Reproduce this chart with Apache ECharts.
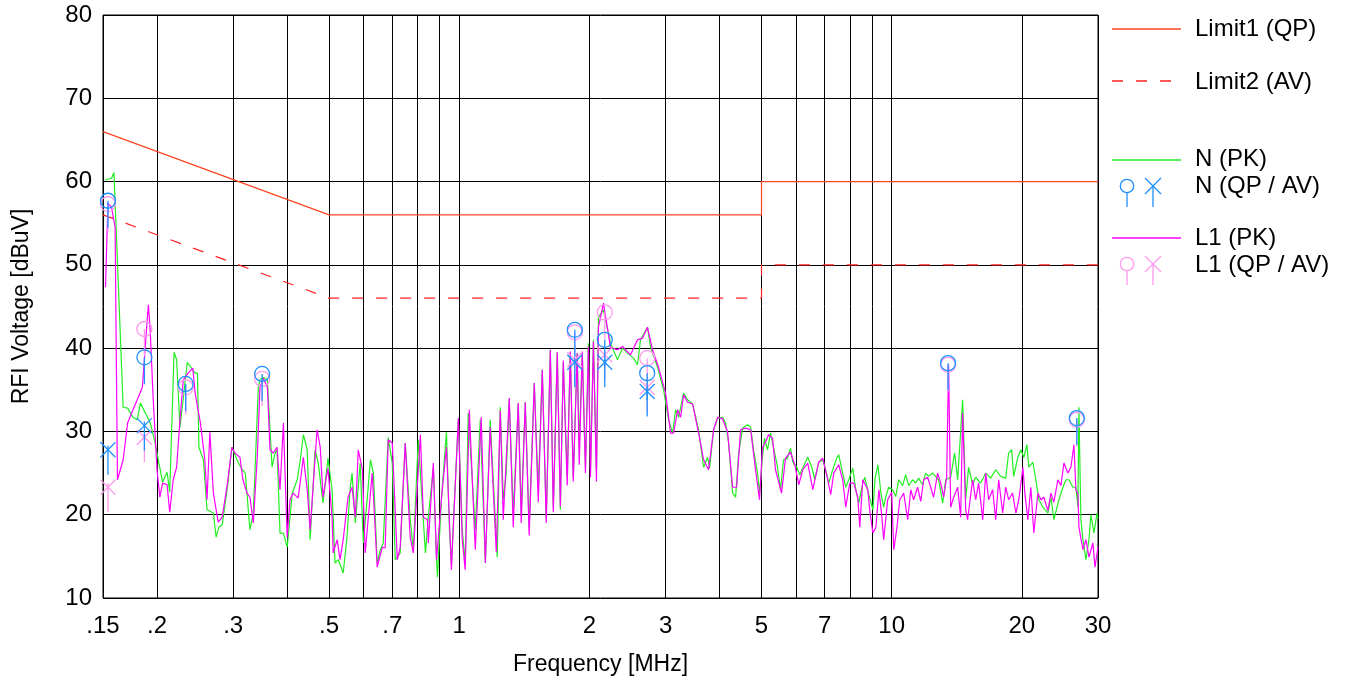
<!DOCTYPE html>
<html>
<head>
<meta charset="utf-8">
<script src="https://cdn.jsdelivr.net/npm/echarts@6/dist/echarts.min.js"></script>
<style>
  html, body { margin: 0; padding: 0; background: #fff; }
  #emi { width: 1348px; height: 681px; }
</style>
</head>
<body>
<div id="emi"></div>
<script>
// frequency grid (MHz) and labels
var gridFreqs = [0.15, 0.2, 0.3, 0.4, 0.5, 0.6, 0.7, 0.8, 0.9, 1, 2, 3, 4, 5, 6, 7, 8, 9, 10, 20, 30];
var labelFreqs = [0.15, 0.2, 0.3, 0.5, 0.7, 1, 2, 3, 5, 7, 10, 20, 30];
var labelTexts = ['.15', '.2', '.3', '.5', '.7', '1', '2', '3', '5', '7', '10', '20', '30'];

// limits [MHz, dBuV]
var limit1 = [[0.15, 66], [0.5, 56], [5, 56], [5, 60], [30, 60]];
var limit2 = [[0.15, 56], [0.5, 46], [5, 46], [5, 50], [30, 50]];

// N peak scan [MHz, dBuV]
var nPk = [
  [0.152, 60.2], [0.157, 60.4], [0.159, 61.1], [0.167, 32.9], [0.171, 32.8], [0.176, 31.7],
  [0.180, 31.4], [0.183, 33.4], [0.188, 32.2], [0.193, 31.0], [0.198, 28.6], [0.201, 26.8],
  [0.206, 23.9], [0.211, 25.1], [0.214, 22.7], [0.219, 39.5], [0.222, 38.6], [0.226, 30.5],
  [0.235, 38.3], [0.245, 37.0], [0.248, 37.0], [0.250, 28.1], [0.256, 26.6], [0.261, 20.6],
  [0.270, 20.2], [0.274, 17.3], [0.278, 18.5], [0.283, 18.8], [0.291, 23.3], [0.298, 28.1],
  [0.308, 26.3], [0.315, 25.4], [0.320, 25.0], [0.328, 18.2], [0.334, 20.2], [0.343, 35.3],
  [0.346, 36.2], [0.352, 36.5], [0.360, 36.2], [0.369, 25.7], [0.375, 27.4], [0.379, 27.8],
  [0.385, 17.8], [0.392, 17.8], [0.400, 16.1], [0.411, 22.6], [0.422, 24.2], [0.429, 26.6],
  [0.436, 29.6], [0.445, 27.8], [0.452, 17.0], [0.464, 27.8], [0.472, 26.2], [0.484, 21.4],
  [0.497, 26.8], [0.508, 23.0], [0.516, 14.2], [0.525, 14.6], [0.539, 13.0], [0.550, 17.3],
  [0.559, 23.0], [0.565, 25.0], [0.575, 19.0], [0.590, 26.2], [0.600, 16.6], [0.613, 22.1],
  [0.623, 26.6], [0.633, 25.0], [0.646, 14.2], [0.657, 15.8], [0.667, 16.6], [0.685, 29.3],
  [0.700, 26.2], [0.711, 14.6], [0.730, 15.4], [0.750, 28.6], [0.770, 19.4], [0.783, 15.8],
  [0.804, 29.0], [0.835, 15.4], [0.848, 19.7], [0.871, 25.7], [0.886, 14.6], [0.890, 12.5],
  [0.910, 22.1], [0.934, 29.9], [0.949, 18.2], [0.959, 14.2], [0.995, 31.4], [1.016, 18.2],
  [1.032, 14.2], [1.049, 32.2], [1.089, 18.2], [1.118, 31.4], [1.149, 14.2], [1.179, 31.4],
  [1.224, 14.9], [1.244, 32.9], [1.264, 21.8], [1.284, 25.0], [1.305, 33.8], [1.333, 20.2],
  [1.369, 33.4], [1.391, 20.2], [1.421, 33.5], [1.451, 18.5], [1.491, 35.8], [1.523, 23.0],
  [1.556, 37.4], [1.589, 19.6], [1.624, 39.8], [1.650, 20.9], [1.685, 39.5], [1.713, 20.6],
  [1.740, 38.2], [1.777, 24.5], [1.806, 39.4], [1.835, 24.5], [1.874, 39.4], [1.894, 28.1],
  [1.925, 39.4], [1.958, 25.7], [1.989, 40.6], [2.011, 25.4], [2.043, 41.0], [2.076, 25.4],
  [2.098, 43.7], [2.155, 44.6], [2.237, 40.6], [2.322, 38.6], [2.385, 40.0], [2.449, 39.4],
  [2.529, 38.8], [2.583, 38.0], [2.625, 41.0], [2.725, 42.5], [2.769, 40.1], [2.875, 37.7],
  [2.968, 35.0], [3.048, 31.4], [3.114, 29.8], [3.164, 32.6], [3.215, 31.7], [3.302, 34.6],
  [3.373, 33.8], [3.391, 33.6], [3.464, 33.3], [3.577, 30.2], [3.673, 25.7], [3.752, 26.9],
  [3.792, 25.6], [3.874, 30.2], [3.958, 31.6], [4.064, 31.7], [4.130, 31.0], [4.197, 28.6],
  [4.287, 22.6], [4.356, 22.1], [4.426, 27.4], [4.522, 30.4], [4.644, 30.8], [4.719, 30.5],
  [4.791, 27.8], [4.895, 25.0], [4.947, 22.6], [5.027, 26.9], [5.081, 29.2], [5.162, 27.8],
  [5.246, 29.8], [5.330, 28.1], [5.445, 25.7], [5.533, 23.0], [5.622, 26.6], [5.743, 26.8],
  [5.835, 28.0], [5.905, 26.3], [6.032, 25.7], [6.129, 24.8], [6.228, 25.6], [6.396, 26.9],
  [6.534, 25.7], [6.640, 24.2], [6.780, 26.3], [6.926, 26.6], [7.037, 25.4], [7.151, 23.8],
  [7.305, 25.4], [7.462, 26.8], [7.542, 27.2], [7.704, 25.0], [7.831, 23.3], [7.957, 24.2],
  [8.129, 25.6], [8.260, 23.0], [8.393, 21.4], [8.574, 23.8], [8.666, 24.5], [8.852, 22.4],
  [9.048, 20.6], [9.145, 24.2], [9.292, 26.0], [9.442, 22.6], [9.583, 20.9], [9.685, 22.1],
  [9.841, 23.3], [10.05, 23.0], [10.22, 22.2], [10.38, 24.2], [10.60, 23.5], [10.77, 24.8],
  [10.95, 23.5], [11.18, 24.2], [11.36, 23.8], [11.54, 24.4], [11.79, 23.6], [11.98, 25.0],
  [12.18, 24.6], [12.44, 25.0], [12.64, 24.6], [12.84, 24.2], [13.12, 21.4], [13.33, 24.2],
  [13.69, 24.5], [13.98, 27.4], [14.21, 24.2], [14.59, 33.8], [14.83, 21.8], [15.06, 25.7],
  [15.39, 23.6], [15.64, 24.5], [16.06, 23.8], [16.50, 25.0], [16.94, 24.4], [17.40, 25.4],
  [17.87, 24.6], [18.35, 24.4], [18.64, 27.4], [18.94, 27.8], [19.15, 24.6], [19.58, 26.9],
  [19.89, 27.8], [20.21, 26.9], [20.54, 28.4], [20.76, 25.7], [21.21, 26.3], [21.55, 24.2],
  [21.90, 21.8], [22.37, 20.9], [22.97, 20.2], [23.35, 22.1], [23.72, 19.4], [24.36, 21.8],
  [24.89, 23.3], [25.29, 24.2], [25.70, 24.2], [26.25, 23.3], [26.67, 23.3], [26.96, 20.9],
  [27.10, 32.9], [27.39, 19.4], [27.69, 17.0], [28.13, 14.6], [28.59, 17.0], [28.89, 20.0],
  [29.36, 17.8], [29.84, 20.2], [30.0, 19.5]
];

// L1 peak scan [MHz, dBuV]
var l1Pk = [
  [0.152, 47.3], [0.154, 57.4], [0.157, 56.9], [0.160, 54.5], [0.162, 24.2], [0.167, 26.6],
  [0.171, 31.0], [0.176, 32.6], [0.181, 34.1], [0.185, 35.3], [0.186, 37.0], [0.190, 43.7],
  [0.191, 45.2], [0.193, 41.8], [0.196, 33.8], [0.200, 25.4], [0.203, 22.1], [0.206, 23.8],
  [0.211, 23.6], [0.214, 20.3], [0.218, 24.2], [0.222, 25.7], [0.226, 31.4], [0.230, 36.2],
  [0.236, 37.0], [0.242, 37.6], [0.245, 34.6], [0.252, 31.0], [0.258, 26.6], [0.261, 21.8],
  [0.265, 29.9], [0.270, 22.6], [0.277, 19.1], [0.283, 19.7], [0.291, 23.8], [0.298, 28.1],
  [0.303, 27.4], [0.311, 26.9], [0.316, 24.2], [0.323, 22.6], [0.328, 22.1], [0.334, 19.0],
  [0.341, 26.9], [0.346, 35.3], [0.352, 36.4], [0.360, 35.3], [0.365, 27.8], [0.371, 27.4],
  [0.379, 28.1], [0.385, 23.0], [0.392, 31.0], [0.396, 31.0], [0.400, 17.3], [0.406, 21.8],
  [0.413, 22.6], [0.424, 22.0], [0.436, 26.9], [0.445, 23.0], [0.452, 18.2], [0.469, 30.2],
  [0.477, 28.1], [0.484, 22.1], [0.497, 25.6], [0.508, 19.7], [0.511, 15.4], [0.522, 17.0],
  [0.530, 14.6], [0.539, 17.0], [0.553, 22.1], [0.565, 23.3], [0.575, 19.7], [0.584, 27.8],
  [0.597, 25.4], [0.606, 15.4], [0.629, 25.0], [0.646, 13.7], [0.664, 16.1], [0.674, 16.0],
  [0.685, 29.0], [0.700, 28.6], [0.719, 14.6], [0.730, 16.1], [0.750, 28.6], [0.770, 17.3],
  [0.783, 15.4], [0.813, 29.6], [0.826, 19.7], [0.844, 19.4], [0.848, 16.6], [0.871, 26.2],
  [0.886, 14.6], [0.910, 22.1], [0.934, 28.1], [0.959, 13.4], [0.995, 31.6], [1.016, 17.0],
  [1.032, 13.4], [1.055, 32.6], [1.089, 15.8], [1.124, 31.7], [1.149, 14.2], [1.179, 30.5],
  [1.218, 15.5], [1.244, 32.5], [1.264, 19.4], [1.305, 34.0], [1.333, 18.5], [1.369, 33.4],
  [1.391, 19.0], [1.421, 33.5], [1.451, 17.5], [1.491, 35.8], [1.523, 21.5], [1.556, 37.4],
  [1.589, 19.0], [1.624, 39.8], [1.650, 20.3], [1.685, 39.5], [1.713, 21.0], [1.740, 38.5],
  [1.777, 23.5], [1.806, 39.6], [1.835, 24.0], [1.874, 39.4], [1.894, 26.0], [1.925, 39.6],
  [1.958, 25.0], [1.989, 40.2], [2.011, 24.5], [2.043, 40.8], [2.076, 24.0], [2.098, 42.5],
  [2.155, 45.4], [2.237, 40.1], [2.322, 39.8], [2.385, 40.2], [2.489, 39.2], [2.583, 41.0],
  [2.653, 41.2], [2.725, 42.5], [2.798, 39.8], [2.890, 37.7], [3.000, 34.6], [3.081, 29.8],
  [3.131, 29.8], [3.198, 32.6], [3.250, 31.7], [3.302, 34.4], [3.373, 33.5], [3.464, 33.3],
  [3.577, 29.8], [3.673, 26.6], [3.772, 25.4], [3.874, 30.2], [3.958, 31.7], [4.064, 31.5],
  [4.174, 29.9], [4.287, 23.3], [4.379, 23.3], [4.474, 30.2], [4.595, 30.4], [4.719, 30.2],
  [4.843, 25.4], [4.947, 21.8], [5.027, 28.1], [5.108, 28.7], [5.190, 29.6], [5.302, 29.2],
  [5.387, 25.4], [5.562, 22.6], [5.682, 26.8], [5.835, 27.5], [5.968, 26.0], [6.097, 23.6],
  [6.228, 25.4], [6.396, 26.2], [6.569, 23.0], [6.780, 26.3], [6.926, 26.8], [7.113, 24.2],
  [7.227, 22.4], [7.344, 25.0], [7.542, 26.0], [7.704, 24.2], [7.831, 20.9], [8.000, 23.8],
  [8.172, 23.8], [8.348, 22.1], [8.438, 18.5], [8.574, 24.2], [8.805, 23.0], [8.905, 20.3],
  [9.048, 17.8], [9.194, 18.5], [9.342, 23.0], [9.493, 19.7], [9.583, 17.0], [9.789, 21.8],
  [10.00, 22.7], [10.11, 15.8], [10.27, 18.2], [10.44, 21.8], [10.66, 22.6], [10.89, 19.4],
  [11.07, 23.0], [11.24, 21.8], [11.48, 23.3], [11.67, 21.6], [11.86, 24.2], [12.11, 24.5],
  [12.31, 23.3], [12.50, 22.1], [12.77, 25.0], [12.98, 23.8], [13.19, 22.1], [13.40, 24.5],
  [13.54, 38.0], [13.69, 20.9], [13.91, 22.1], [14.21, 23.3], [14.44, 19.7], [14.59, 32.2],
  [14.83, 20.6], [14.98, 19.4], [15.39, 24.2], [15.64, 21.8], [15.89, 23.8], [16.24, 19.4],
  [16.50, 25.0], [16.76, 21.8], [17.12, 23.0], [17.40, 19.4], [17.68, 24.2], [18.06, 20.2],
  [18.35, 23.3], [18.64, 21.8], [19.04, 22.6], [19.37, 20.2], [19.68, 21.8], [20.11, 25.7],
  [20.32, 22.6], [20.65, 19.4], [20.98, 23.3], [21.32, 17.8], [21.78, 22.6], [22.13, 21.8],
  [22.49, 22.1], [22.97, 20.5], [23.35, 22.6], [23.72, 21.5], [24.23, 24.2], [24.62, 23.5],
  [25.02, 26.2], [25.56, 25.0], [25.97, 25.7], [26.39, 28.4], [26.67, 23.0], [26.96, 22.5],
  [27.10, 18.5], [27.69, 15.8], [28.13, 17.0], [28.59, 14.9], [29.20, 16.6], [29.52, 13.7],
  [30.0, 16.1]
];

// final measurements [MHz, dBuV]
var nQp = [[0.154, 57.7], [0.187, 38.9], [0.233, 35.7], [0.35, 36.9], [1.85, 42.2], [2.17, 41.0], [2.72, 37.0], [13.5, 38.2], [26.8, 31.6]];
var nAv = [[0.154, 27.8], [0.187, 30.7], [1.85, 38.3], [2.17, 38.3], [2.72, 34.8]];
var l1Qp = [[0.154, 57.3], [0.187, 42.3], [0.233, 35.3], [0.35, 36.3], [1.85, 41.9], [2.17, 44.3], [2.72, 38.8], [13.5, 38.0], [26.8, 31.4]];
var l1Av = [[0.154, 23.3], [0.187, 29.3], [1.85, 38.6], [2.17, 39.2], [2.72, 35.3]];

var FONT = 'Liberation Sans, Arial, sans-serif';
var C_GREEN = '#22ee22', C_MAG = '#ff00ff', C_BLUE = '#1e90ff', C_PINK = '#ff99ee';
var C_LIM1 = '#ff4422', C_LIM2 = '#ff2222';

function lg(list) {
  return list.map(function (d) { return [Math.log10(d[0]), d[1]]; });
}

function circleMark(color) {
  return function (params, api) {
    var p = api.coord([api.value(0), api.value(1)]);
    return {
      type: 'group',
      children: [
        { type: 'circle', shape: { cx: p[0], cy: p[1], r: 7.5 }, style: { fill: 'none', stroke: color, lineWidth: 1.3 } },
        { type: 'line', shape: { x1: p[0], y1: p[1], x2: p[0], y2: p[1] + 27 }, style: { stroke: color, lineWidth: 1.3 } }
      ]
    };
  };
}

function crossMark(color) {
  return function (params, api) {
    var p = api.coord([api.value(0), api.value(1)]);
    var s = 7.5;
    return {
      type: 'group',
      children: [
        { type: 'line', shape: { x1: p[0] - s, y1: p[1] - s, x2: p[0] + s, y2: p[1] + s }, style: { stroke: color, lineWidth: 1.3 } },
        { type: 'line', shape: { x1: p[0] - s, y1: p[1] + s, x2: p[0] + s, y2: p[1] - s }, style: { stroke: color, lineWidth: 1.3 } },
        { type: 'line', shape: { x1: p[0], y1: p[1] - 4, x2: p[0], y2: p[1] + 25 }, style: { stroke: color, lineWidth: 1.3 } }
      ]
    };
  };
}

function legendText(x, y, text) {
  return { type: 'text', left: x, top: y - 13, style: { text: text, fill: '#000', font: '24px ' + FONT } };
}

function legendCircle(x, y, color) {
  return [
    { type: 'circle', shape: { cx: x, cy: y, r: 6.7 }, style: { fill: 'none', stroke: color, lineWidth: 1.3 } },
    { type: 'line', shape: { x1: x, y1: y + 6.7, x2: x, y2: y + 21 }, style: { stroke: color, lineWidth: 1.3 } }
  ];
}

function legendCross(x, y, color) {
  return [
    { type: 'line', shape: { x1: x - 8, y1: y - 8, x2: x + 8, y2: y + 8 }, style: { stroke: color, lineWidth: 1.3 } },
    { type: 'line', shape: { x1: x - 8, y1: y + 8, x2: x + 8, y2: y - 8 }, style: { stroke: color, lineWidth: 1.3 } },
    { type: 'line', shape: { x1: x, y1: y, x2: x, y2: y + 21 }, style: { stroke: color, lineWidth: 1.3 } }
  ];
}

var legendItems = [
  { type: 'line', shape: { x1: 1112, y1: 29, x2: 1181, y2: 29 }, style: { stroke: C_LIM1, lineWidth: 1.3 } },
  legendText(1195, 30, 'Limit1 (QP)'),
  { type: 'line', shape: { x1: 1112, y1: 81, x2: 1181, y2: 81 }, style: { stroke: C_LIM2, lineWidth: 1.3, lineDash: [11, 13] } },
  legendText(1195, 83, 'Limit2 (AV)'),
  { type: 'line', shape: { x1: 1112, y1: 160, x2: 1181, y2: 160 }, style: { stroke: C_GREEN, lineWidth: 1.3 } },
  legendText(1195, 160, 'N (PK)'),
  legendText(1195, 187, 'N (QP / AV)'),
  { type: 'line', shape: { x1: 1112, y1: 238, x2: 1181, y2: 238 }, style: { stroke: C_MAG, lineWidth: 1.3 } },
  legendText(1195, 239, 'L1 (PK)'),
  legendText(1195, 266, 'L1 (QP / AV)')
].concat(legendCircle(1127, 186, C_BLUE), legendCross(1153, 186, C_BLUE),
         legendCircle(1127, 264, C_PINK), legendCross(1153, 264, C_PINK));

var chart = echarts.init(document.getElementById('emi'));
var option = {
  animation: false,
  backgroundColor: '#fff',
  grid: {
    left: 103, right: 250, top: 15, bottom: 83,
    show: true, borderColor: '#000', borderWidth: 1, backgroundColor: 'transparent'
  },
  xAxis: {
    type: 'value',
    min: Math.log10(0.15),
    max: Math.log10(30),
    name: 'Frequency [MHz]',
    nameLocation: 'middle',
    nameGap: 55,
    nameTextStyle: { fontFamily: FONT, fontSize: 23, color: '#000' },
    axisLine: { show: false },
    axisTick: { show: false, customValues: gridFreqs.map(function (f) { return Math.log10(f); }) },
    splitLine: { show: true, lineStyle: { color: '#000', width: 1 } },
    axisLabel: {
      customValues: labelFreqs.map(function (f) { return Math.log10(f); }),
      margin: 16,
      fontFamily: FONT,
      fontSize: 24,
      color: '#000',
      formatter: function (v) {
        var best = 0;
        for (var i = 1; i < labelFreqs.length; i++) {
          if (Math.abs(Math.log10(labelFreqs[i]) - v) < Math.abs(Math.log10(labelFreqs[best]) - v)) best = i;
        }
        return labelTexts[best];
      }
    }
  },
  yAxis: {
    type: 'value',
    min: 10,
    max: 80,
    interval: 10,
    name: 'RFI Voltage [dBuV]',
    nameLocation: 'middle',
    nameGap: 70,
    nameTextStyle: { fontFamily: FONT, fontSize: 23, color: '#000' },
    axisLine: { show: false },
    axisTick: { show: false },
    splitLine: { show: true, lineStyle: { color: '#000', width: 1 } },
    axisLabel: { margin: 11, fontFamily: FONT, fontSize: 24, color: '#000' }
  },
  graphic: legendItems,
  series: [
    {
      name: 'Limit1 (QP)', type: 'line', data: lg(limit1), showSymbol: false, silent: true,
      lineStyle: { color: C_LIM1, width: 1.2 }, z: 2
    },
    {
      name: 'Limit2 (AV)', type: 'line', data: lg(limit2), showSymbol: false, silent: true,
      lineStyle: { color: C_LIM2, width: 1.2, type: [11, 13] }, z: 2
    },
    {
      name: 'N (PK)', type: 'line', data: lg(nPk), showSymbol: false, silent: true,
      lineStyle: { color: C_GREEN, width: 1.2 }, z: 3
    },
    {
      name: 'L1 (PK)', type: 'line', data: lg(l1Pk), showSymbol: false, silent: true,
      lineStyle: { color: C_MAG, width: 1.2 }, z: 4
    },
    { name: 'L1 QP', type: 'custom', data: lg(l1Qp), renderItem: circleMark(C_PINK), silent: true, z: 5 },
    { name: 'L1 AV', type: 'custom', data: lg(l1Av), renderItem: crossMark(C_PINK), silent: true, z: 5 },
    { name: 'N QP', type: 'custom', data: lg(nQp), renderItem: circleMark(C_BLUE), silent: true, z: 6 },
    { name: 'N AV', type: 'custom', data: lg(nAv), renderItem: crossMark(C_BLUE), silent: true, z: 6 }
  ]
};
chart.setOption(option);
</script>
</body>
</html>
